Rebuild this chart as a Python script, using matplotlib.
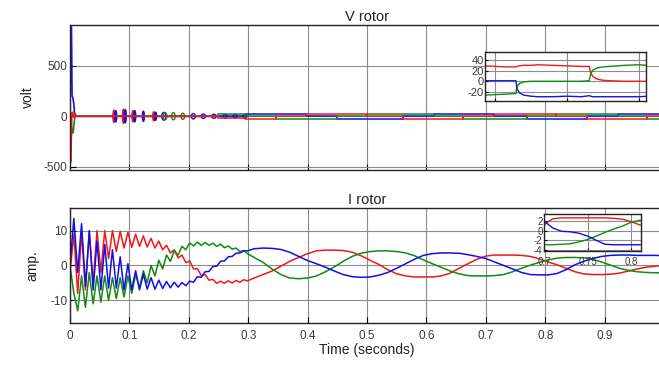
import numpy as np
import matplotlib
matplotlib.use("Agg")
import matplotlib.pyplot as plt
from matplotlib.patches import Ellipse

plt.rcParams['font.family'] = ['Liberation Sans', 'DejaVu Sans']
plt.rcParams['axes.unicode_minus'] = False

# ---------------- I rotor (amp.) ----------------
# fast part, sampled every half ripple period (0 .. 0.299 s)
t_fast = np.arange(47) * 0.0065
i_red_fast = [-2, 9, -8, 9.5, -7, 9.5, -5, 10, -2, 10, 2, 10, 4, 9.8, 5, 9.5, 5.2, 9, 5.5, 8.5,
              5.3, 7.8, 5, 7, 4.5, 5.8, 3.6, 4.5, 2.2, 3, 0.8, 1.3, -1, -0.9, -2.9, -2.6, -4.2,
              -4, -5.1, -4.5, -5.1, -4.4, -5, -4.3, -4.8, -4.1, -4.4]
i_green_fast = [0, -8, -13, -3, -12, -2, -11, -3, -10.5, -3, -10, -3.5, -9.5, -3.5, -9, -3, -8,
                -2.5, -6.5, -1.5, -5, 0, -3, 1.5, -1, 3, 1.2, 4.2, 3, 5.5, 4.5, 6.5, 5.6, 6.7,
                5.8, 6.6, 5.8, 6.4, 5.5, 6.1, 5.1, 5.6, 4.7, 5, 4, 4.3, 3.4]
i_blue_fast = [0, 13.5, -2, 12, -6, 10, -7, 7, -7, 6, -6.5, 4.5, -6.5, 2.5, -7, 0.5, -7, -1.5,
               -7, -2.5, -6.8, -3.5, -6.8, -4.2, -6.6, -4.6, -6.4, -4.8, -6.2, -4.9, -5.8, -4.5,
               -4.8, -3.2, -3.4, -1.8, -1.7, -0.3, -0.2, 1.2, 1.3, 2.5, 2.6, 3.5, 3.6, 4.2, 4.2]

# slow part (0.31 .. 1.0 s)
t_slow = 0.31 + np.arange(47) * 0.015
i_red_slow = [-3.6, -2.6, -1.6, -0.2, 1.2, 2.3, 3.4, 4.2, 4.4, 4.4, 4.3, 3.8, 2.8, 1.5, 0.3, -1.2,
              -2.4, -3.0, -3.3, -3.3, -3.3, -3.0, -2.2, -0.8, 0.5, 1.8, 2.7, 3.0, 3.0, 3.0, 2.9,
              2.6, 1.9, 1.0, 0.2, -0.8, -1.8, -2.4, -2.6, -2.6, -2.5, -2.2, -1.6, -1.0, -0.5,
              -0.2, 0]
i_green_slow = [2.3, 0.9, -1.0, -2.6, -3.6, -3.8, -3.6, -3.0, -1.8, -0.4, 1.2, 2.6, 3.5, 4.0, 4.2,
                4.2, 4.0, 3.6, 2.8, 1.6, 0.5, -0.5, -1.6, -2.4, -2.9, -3.0, -3.0, -2.9, -2.6,
                -1.8, -0.8, 0.1, 0.9, 1.6, 2.1, 2.3, 2.3, 2.2, 1.8, 1.0, 0.1, -0.8, -1.4, -1.8,
                -2.0, -2.1, -2.1]
i_blue_slow = [4.8, 5.0, 4.9, 4.6, 3.8, 2.6, 1.4, 0.5, -0.5, -1.6, -2.6, -3.2, -3.4, -3.3, -2.8,
               -2.0, -0.8, 0.5, 1.8, 2.9, 3.4, 3.6, 3.6, 3.5, 3.1, 2.6, 2.0, 1.0, 0.0, -1.0, -2.0,
               -2.6, -2.7, -2.7, -2.3, -1.2, 0.2, 1.2, 2.0, 2.6, 2.9, 3.0, 3.0, 2.9, 2.9, 2.9, 2.8]

# zoomed window of I rotor
t_izoom = [0.70, 0.705, 0.71, 0.72, 0.73, 0.74, 0.75, 0.76, 0.77, 0.78, 0.79, 0.80, 0.81]
iz_red = [1.2, 1.9, 2.5, 2.7, 2.7, 2.7, 2.7, 2.7, 2.7, 2.6, 2.4, 1.9, 1.2]
iz_blue = [2.1, 1.3, 0.6, -0.1, -0.2, -0.5, -1.1, -2.0, -2.8, -2.9, -2.9, -2.9, -2.9]
iz_green = [-2.9, -2.9, -2.9, -2.8, -2.7, -2.3, -1.8, -1.1, -0.3, 0.4, 1.0, 1.8, 2.2]

# ---------------- V rotor (volt) ----------------
# start-up transient
vt_red = [0, 0.0005, 0.0015, 0.003, 0.004, 0.006, 0.008, 0.01, 0.25]
vv_red = [0, -450, -450, 0, 40, -10, 30, 0, 0]
vt_green = [0, 0.002, 0.003, 0.004, 0.0055, 0.007, 0.009, 0.011, 0.25]
vv_green = [0, -60, -170, -120, -160, -60, 20, 0, 0]
vt_blue = [0, 0.0012, 0.0025, 0.0035, 0.005, 0.0065, 0.008, 0.01, 0.25]
vv_blue = [0, 880, 880, 200, 180, 120, 0, 0, 0]

# oscillation bursts (centre time, half height)
burst_red_t = [0.074, 0.090, 0.106, 0.141]
burst_red_amp = [60, 70, 55, 45]
burst_blue_t = [0.077, 0.093, 0.109, 0.1235, 0.144, 0.158, 0.2076, 0.2245, 0.2424, 0.261, 0.278,
                0.2946]
burst_blue_amp = [55, 65, 55, 50, 40, 38, 26, 22, 20, 18, 15, 13]
burst_green_t = [0.16, 0.174, 0.19]
burst_green_amp = [36, 35, 30]

# six-step rotor voltage
v_step_t = [0.25, 0.295, 0.347, 0.398, 0.4495, 0.5, 0.561, 0.612, 0.662, 0.713, 0.769, 0.819,
            0.87, 0.923, 0.971, 1.02]
v_step_red = [-18, -22, 0, 26, 26, 0, -22, -22, 0, 26, 26, 0, -22, -22, 0, 0]
v_step_green = [18, 0, -22, -22, 0, 26, 26, 0, -22, -22, 0, 26, 26, 0, -22, -22]
v_step_blue = [0, 26, 26, 0, -22, -22, 0, 26, 26, 0, -22, -22, 0, 26, 26, 26]

# zoomed window of V rotor
t_vzoom = [0.443, 0.450, 0.458, 0.4645, 0.4652, 0.467, 0.470, 0.475, 0.48, 0.49, 0.50, 0.51,
           0.5155, 0.5165, 0.518, 0.521, 0.525, 0.53, 0.54, 0.55, 0.556]
vz_red = [29, 28, 27, 27, 28, 29, 30, 30, 31, 30, 29, 28, 28, 16, 9, 4, 2, 1, 0, 0, 0]
vz_green = [-26, -25, -24, -23, -10, -4, -1, 0, 0, 0, 0, 0, 1, 14, 21, 25, 27, 28, 30, 31, 30]
vz_blue = [1, 1, 1, 1, -14, -22, -26, -28, -29, -29, -28, -29, -27, -28, -29, -29, -29, -29,
           -29, -29, -28]

RED = '#f01818'
GREEN = '#108a10'
BLUE = '#1010e8'
TICKC = '#3a3a3a'


def style(ax, fs=8.5):
    ax.grid(True, color='#8c8c8c', lw=0.8)
    ax.set_axisbelow(True)
    ax.tick_params(direction='in', length=4, labelsize=fs, labelcolor=TICKC, pad=2)
    for s in ax.spines.values():
        s.set_color('#222222')
        s.set_linewidth(1.0)


fig = plt.figure(figsize=(6.59, 3.65), dpi=100)

# ---- top: V rotor
ax1 = fig.add_axes([0.1062, 0.5342, 0.9014, 0.3973])
ax1.plot(vt_blue, vv_blue, color=BLUE, lw=1.2)
ax1.plot(vt_green, vv_green, color=GREEN, lw=1.2)
ax1.step(v_step_t, v_step_blue, where='post', color=BLUE, lw=1.1)
ax1.step(v_step_t, v_step_green, where='post', color=GREEN, lw=1.1)
ax1.step(v_step_t, v_step_red, where='post', color=RED, lw=1.1)
ax1.plot(vt_red, vv_red, color=RED, lw=1.2)
for tb, a in zip(burst_red_t, burst_red_amp):
    ax1.add_patch(Ellipse((tb, 0), 0.0035, 2 * a, fc=RED, ec=RED, lw=1.0))
for tb, a in zip(burst_blue_t, burst_blue_amp):
    early = tb < 0.15
    ax1.add_patch(Ellipse((tb, 0), 0.0035 if early else 0.007, 2 * a,
                          fc=BLUE if early else 'none', ec=BLUE, lw=1.0))
for tb, a in zip(burst_green_t, burst_green_amp):
    ax1.add_patch(Ellipse((tb, 0), 0.006, 2 * a, fc='none', ec=GREEN, lw=1.0))
ax1.set_xlim(0, 1)
ax1.set_ylim(-530, 900)
ax1.set_xticks(np.arange(0, 1.01, 0.1))
ax1.set_yticks([-500, 0, 500])
style(ax1)
ax1.tick_params(labelbottom=False)
ax1.set_ylabel('volt', fontsize=10, color='#222222', labelpad=6)
ax1.set_title('V rotor', fontsize=10.5, pad=3, color='#222222')

axv = fig.add_axes([0.736, 0.7233, 0.2443, 0.1342], zorder=5)
axv.plot(t_vzoom, vz_red, color=RED, lw=1.0)
axv.plot(t_vzoom, vz_green, color=GREEN, lw=1.0)
axv.plot(t_vzoom, vz_blue, color=BLUE, lw=1.0)
axv.set_xlim(0.443, 0.555)
axv.set_ylim(-37, 55)
axv.set_xticks([0.45, 0.5, 0.55])
axv.set_yticks([-20, 0, 20, 40])
style(axv, fs=8)
axv.tick_params(labelbottom=False, length=2, pad=1)

# ---- bottom: I rotor
ax2 = fig.add_axes([0.1062, 0.1151, 0.9014, 0.3151])
t_all = np.concatenate([t_fast, t_slow])
ax2.plot(t_all, i_red_fast + i_red_slow, color=RED, lw=1.1)
ax2.plot(t_all, i_green_fast + i_green_slow, color=GREEN, lw=1.1)
ax2.plot(t_all, i_blue_fast + i_blue_slow, color=BLUE, lw=1.1)
ax2.set_xlim(0, 1)
ax2.set_ylim(-16.5, 16.5)
ax2.set_xticks(np.arange(0, 1.01, 0.1))
ax2.set_xticklabels(['0', '0.1', '0.2', '0.3', '0.4', '0.5', '0.6', '0.7', '0.8', '0.9', ''])
ax2.set_yticks([-10, 0, 10])
style(ax2)
ax2.tick_params(axis='x', pad=5)
ax2.set_ylabel('amp.', fontsize=10, color='#222222', labelpad=8)
ax2.set_title('I rotor', fontsize=10.5, pad=3, color='#222222')
ax2.set_xlabel('Time (seconds)', fontsize=10, color='#222222', labelpad=1)

axi = fig.add_axes([0.8255, 0.3123, 0.1472, 0.1014], zorder=5)
axi.plot(t_izoom, iz_red, color=RED, lw=1.0)
axi.plot(t_izoom, iz_green, color=GREEN, lw=1.0)
axi.plot(t_izoom, iz_blue, color=BLUE, lw=1.0)
axi.set_xlim(0.7, 0.811)
axi.set_ylim(-4.2, 3.5)
axi.set_xticks([0.7, 0.75, 0.8])
axi.set_xticklabels(['0.7', '0.75', '0.8'])
axi.set_yticks([-4, -2, 0, 2])
style(axi, fs=7)
axi.tick_params(length=2, pad=1)
axi.tick_params(axis='x', pad=4)

fig.savefig('out.png', dpi=100)
